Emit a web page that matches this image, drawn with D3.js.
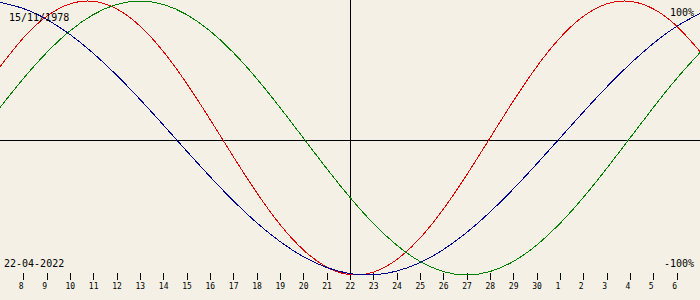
<!DOCTYPE html>
<html>
<head>
<title>Biorhythm</title>
<style>
  body { margin: 0; background: #f4f0e5; }
  svg { display: block; }
  .lbl { font: 10px "DejaVu Sans Mono", monospace; fill: #000; }
  .tick text { font: 8px "DejaVu Sans Mono", monospace; fill: #000; }
</style>
</head>
<body>
<script src="https://cdn.jsdelivr.net/npm/d3@7/dist/d3.min.js"></script>
<script>
const width = 700, height = 300;

const birthDate = "15/11/1978";
const chartDate = "22-04-2022";

// one point per day, 7 April .. 7 May
const days = [7, 8, 9, 10, 11, 12, 13, 14, 15, 16, 17, 18, 19, 20, 21, 22,
              23, 24, 25, 26, 27, 28, 29, 30, 1, 2, 3, 4, 5, 6, 7];

const physical = [0.5196, 0.7308, 0.8879, 0.9791, 0.9977, 0.9423, 0.8170, 0.6311,
  0.3984, 0.1362, -0.1362, -0.3984, -0.6311, -0.8170, -0.9423, -0.9977,
  -0.9791, -0.8879, -0.7308, -0.5196, -0.2698, 0, 0.2698, 0.5196,
  0.7308, 0.8879, 0.9791, 0.9977, 0.9423, 0.8170, 0.6311];

const emotional = [0.2225, 0.4339, 0.6235, 0.7818, 0.9010, 0.9749, 1, 0.9749,
  0.9010, 0.7818, 0.6235, 0.4339, 0.2225, 0, -0.2225, -0.4339,
  -0.6235, -0.7818, -0.9010, -0.9749, -1, -0.9749, -0.9010, -0.7818,
  -0.6235, -0.4339, -0.2225, 0, 0.2225, 0.4339, 0.6235];

const intellectual = [0.9898, 0.9450, 0.8660, 0.7557, 0.6182, 0.4582, 0.2817, 0.0951,
  -0.0951, -0.2817, -0.4582, -0.6182, -0.7557, -0.8660, -0.9450, -0.9898,
  -0.9989, -0.9718, -0.9096, -0.8146, -0.6901, -0.5406, -0.3717, -0.1893,
  0, 0.1893, 0.3717, 0.5406, 0.6901, 0.8146, 0.9096];

const series = [
  { name: "physical", values: physical, color: "#e00000" },
  { name: "emotional", values: emotional, color: "#008000" },
  { name: "intellectual", values: intellectual, color: "#000090" }
];

const todayIndex = 15;

const x = d3.scaleLinear().domain([0, days.length - 1]).range([0, width]);
const y = d3.scaleLinear().domain([-1, 1]).range([275, 1]);

const svg = d3.select("body").append("svg")
  .attr("width", width)
  .attr("height", height);

svg.append("rect").attr("width", width).attr("height", height).attr("fill", "#f4f0e5");

// zero line and today line
svg.append("line")
  .attr("x1", 0).attr("x2", width)
  .attr("y1", Math.round(y(0)) + 2.5).attr("y2", Math.round(y(0)) + 2.5)
  .attr("stroke", "#000");

svg.append("line")
  .attr("x1", Math.round(x(todayIndex)) + 0.5).attr("x2", Math.round(x(todayIndex)) + 0.5)
  .attr("y1", 0).attr("y2", 275)
  .attr("stroke", "#000");

// day ticks
const tickIdx = d3.range(1, days.length - 1);
const axis = d3.axisBottom(x)
  .tickValues(tickIdx)
  .tickSize(7)
  .tickSizeOuter(0)
  .tickFormat(i => days[i]);

const ax = svg.append("g")
  .attr("class", "tick-axis")
  .attr("transform", "translate(0,273)")
  .call(axis);
ax.select(".domain").remove();
ax.selectAll(".tick line").attr("stroke", "#000").attr("shape-rendering", "crispEdges");
ax.selectAll(".tick text")
  .attr("text-anchor", "start")
  .attr("x", -5)
  .attr("y", 10)
  .attr("dy", "0.71em");

// curves
const line = d3.line()
  .x((d, i) => x(i))
  .y(d => y(d))
  .curve(d3.curveNatural);

svg.selectAll("path.curve")
  .data(series)
  .enter().append("path")
  .attr("class", "curve")
  .attr("d", d => line(d.values))
  .attr("fill", "none")
  .attr("stroke", d => d.color)
  .attr("stroke-width", 1)
  .attr("shape-rendering", "crispEdges");

// labels
svg.append("text").attr("class", "lbl").attr("x", 9).attr("y", 21).text(birthDate);
svg.append("text").attr("class", "lbl").attr("x", 4).attr("y", 267).text(chartDate);
svg.append("text").attr("class", "lbl").attr("x", 694).attr("y", 16)
  .attr("text-anchor", "end").text("100%");
svg.append("text").attr("class", "lbl").attr("x", 694).attr("y", 267)
  .attr("text-anchor", "end").text("-100%");
</script>
</body>
</html>
